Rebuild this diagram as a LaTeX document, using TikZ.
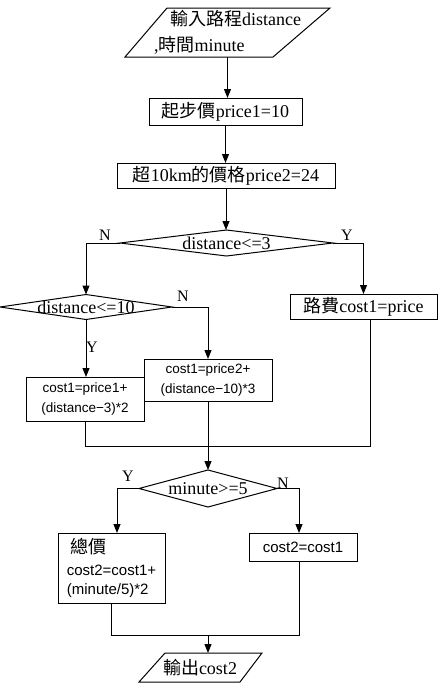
\documentclass[tikz,border=0pt]{standalone}
\usepackage{fontspec}
\setmainfont{Liberation Serif}
\setsansfont{Liberation Sans}
\newfontfamily\cjk{Noto Sans CJK TC}
\usetikzlibrary{arrows.meta,calc}
\begin{document}
\begin{tikzpicture}[x=1pt,y=-1pt,
  line width=1pt,
  every node/.style={inner sep=0pt, outer sep=0pt},
  serif/.style={font=\fontsize{18}{22}\selectfont},
  sansA/.style={font=\sffamily\fontsize{13.5}{20.5}\selectfont},
  sansB/.style={font=\sffamily\fontsize{15}{19}\selectfont},
  boxnode/.style={draw, rectangle},
  arr/.style={-{Triangle[length=9pt,width=7pt]}},
  lbl/.style={font=\fontsize{16}{16}\selectfont},
]
\useasboundingbox (0,0) rectangle (440,688);

% input
\node[font=\fontsize{18}{26}\selectfont, align=left, minimum width=205pt, minimum height=49pt] (in) at (227.5,32.5)
  {\hspace*{16pt}{\cjk 輸入路程}distance\\,{\cjk 時間}minute};
\draw (167,8) -- (330,8) -- (273,57) -- (125,57) -- cycle;

\node[boxnode, serif, minimum width=153pt, minimum height=27pt] (b1) at (225.5,111.5) {{\cjk 起步價}price1=10};
\node[boxnode, serif, minimum width=218pt, minimum height=25pt] (b2) at (226,175.5) {{\cjk 超}10km{\cjk 的價格}price2=24};

% decision 1
\node[serif, minimum width=213pt, minimum height=26pt] (d1) at (226.5,243) {distance<=3};
\draw (d1.west) -- (d1.north) -- (d1.east) -- (d1.south) -- cycle;

% decision 2
\node[serif, minimum width=172pt, minimum height=25pt] (d2) at (86,307) {distance<=10};
\draw (d2.west) -- (d2.north) -- (d2.east) -- (d2.south) -- cycle;

\node[boxnode, serif, minimum width=147pt, minimum height=25pt] (rb) at (363.5,306.5) {{\cjk 路費}cost1=price};
\node[boxnode, sansA, align=center, minimum width=128pt, minimum height=42pt] (mb) at (208,380) {cost1=price2+\\(distance−10)*3};
\node[boxnode, sansA, align=center, minimum width=118pt, minimum height=44pt] (lb) at (85,399) {cost1=price1+\\(distance−3)*2};

% decision 3
\node[serif, minimum width=138pt, minimum height=37pt] (d3) at (208,488.5) {minute>=5};
\draw (d3.west) -- (d3.north) -- (d3.east) -- (d3.south) -- cycle;

\node[boxnode, sansB, align=left, minimum width=107pt, minimum height=70pt] (tb) at (111.5,568)
  {\hspace*{4pt}{\cjk\fontsize{18}{19}\selectfont 總價}\\[3pt]cost2=cost1+\\(minute/5)*2};
\node[boxnode, sansB, minimum width=108pt, minimum height=28pt] (cb) at (303,547) {cost2=cost1};

% output
\node[serif, minimum width=100pt, minimum height=29pt] (out) at (200,667.5) {{\cjk 輸出}cost2};
\draw (165,653) -- (262,653) -- (240,682) -- (139,682) -- cycle;

% labels
\node[lbl] (n1) at (105,235) {N};
\node[lbl] (y1) at (347,235) {Y};
\node[lbl] (n2) at (183,296) {N};
\node[lbl] (y2) at (92,347) {Y};
\node[lbl] (y3) at (128,476) {Y};
\node[lbl] (n3) at (283,483) {N};

% connectors
\draw[arr] (in.south) -- (in.south |- b1.north);
\draw[arr] (b1.south) -- (b1.south |- b2.north);
\draw[arr] (b2.south) -- (b2.south |- d1.north);
\draw[arr] (d1.west) -| (d2.north);
\draw[arr] (d1.east) -| (rb.north);
\draw[arr] (d2.south) -- (d2.south |- lb.north);
\draw[arr] (d2.east) -| (mb.north);
\coordinate (m1) at (208,446);
\draw (lb.south) |- (m1);
\draw ([xshift=7pt]rb.south) |- (m1);
\draw (mb.south) -- (m1);
\draw[arr] (m1) -- (d3.north);
\draw[arr] (d3.west) -| ([xshift=5.5pt]tb.north);
\draw[arr] (d3.east) -| ([xshift=-4pt]cb.north);
\coordinate (m2) at (208,635);
\draw (tb.south) |- (m2);
\draw ([xshift=-4pt]cb.south) |- (m2);
\draw[arr] (m2) -- (m2 |- out.north);
\end{tikzpicture}
\end{document}
